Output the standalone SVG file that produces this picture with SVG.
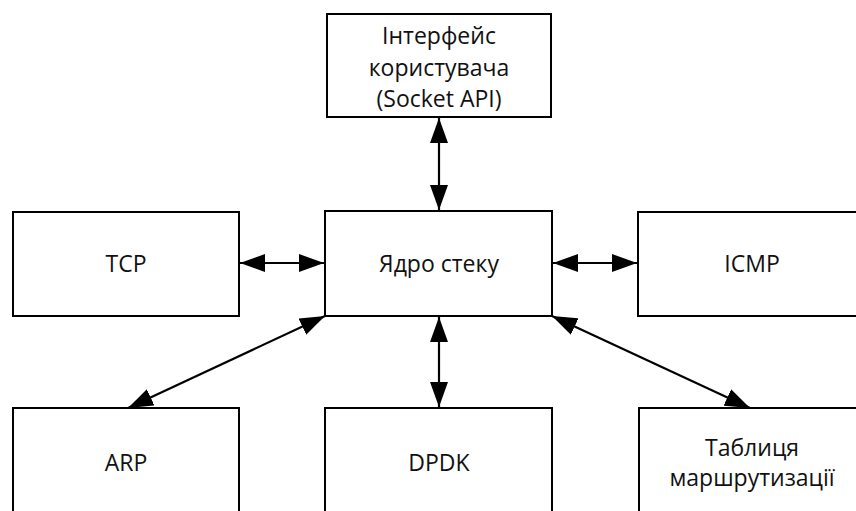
<svg xmlns="http://www.w3.org/2000/svg" width="856" height="511" viewBox="0 0 856 511">
<style>
.box{fill:#fff;stroke:#000;stroke-width:2}
.t{font-family:"Open Sans","Liberation Sans",sans-serif;font-size:23px;fill:#111;text-anchor:middle}
.c{stroke:#000;stroke-width:2.2;fill:none;marker-start:url(#ah);marker-end:url(#ah)}
</style>
<defs>
<marker id="ah" viewBox="0 0 25 18" markerWidth="25" markerHeight="18" refX="25" refY="9" markerUnits="userSpaceOnUse" orient="auto-start-reverse">
<path d="M0,0 L25,9 L0,18 Z" fill="#000"/>
</marker>
</defs>
<rect width="856" height="511" fill="#fff"/>
<g id="api"><rect class="box" x="327" y="14" width="224" height="103"/>
<text class="t" x="439" y="44">Інтерфейс</text>
<text class="t" x="439" y="76">користувача</text>
<text class="t" x="439" y="107">(Socket API)</text></g>
<g id="core"><rect class="box" x="325" y="211" width="227" height="105"/>
<text class="t" x="439" y="272">Ядро стеку</text></g>
<g id="tcp"><rect class="box" x="13" y="212" width="226" height="104"/>
<text class="t" x="126" y="272">TCP</text></g>
<g id="icmp"><rect class="box" x="638" y="212" width="228" height="104"/>
<text class="t" x="752" y="272">ICMP</text></g>
<g id="arp"><rect class="box" x="13" y="408" width="226" height="110"/>
<text class="t" x="126" y="471">ARP</text></g>
<g id="dpdk"><rect class="box" x="325" y="408" width="227" height="110"/>
<text class="t" x="439" y="471">DPDK</text></g>
<g id="route"><rect class="box" x="639" y="408" width="228" height="110"/>
<text class="t" x="752" y="456">Таблиця</text>
<text class="t" x="752" y="486">маршрутизації</text></g>
<g id="connectors">
<line class="c" x1="439" y1="118" x2="439" y2="210"/>
<line class="c" x1="240" y1="263" x2="324" y2="263"/>
<line class="c" x1="553" y1="263" x2="637" y2="263"/>
<line class="c" x1="439" y1="317" x2="439" y2="407"/>
<line class="c" x1="325" y1="316" x2="128" y2="408"/>
<line class="c" x1="552" y1="316" x2="750" y2="408"/>
</g>
</svg>
